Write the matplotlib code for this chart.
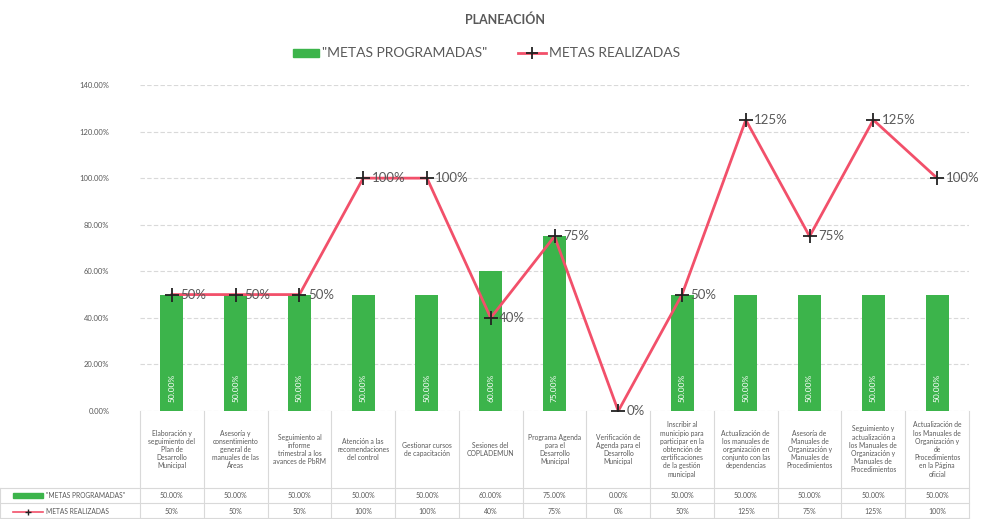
"""
Planeación: metas programadas vs. metas realizadas, con tabla de datos.
"""

import textwrap

import matplotlib.pyplot as plt
import matplotlib.transforms as mtransforms
from matplotlib.lines import Line2D
from matplotlib.patches import Rectangle

plt.rcParams['font.family'] = ['Lato', 'DejaVu Sans']

# Datos
categorias = [
    "Elaboración y seguimiento del Plan de Desarrollo Municipal",
    "Asesoría y consentimiento general de manuales de las Áreas",
    "Seguimiento al informe trimestral a los avances de PbRM",
    "Atención a las recomendaciones del control",
    "Gestionar cursos de capacitación",
    "Sesiones del COPLADEMUN",
    "Programa Agenda para el Desarrollo Municipal",
    "Verificación de Agenda para el Desarrollo Municipal",
    "Inscribir al municipio para participar en la obtención de certificaciones de la gestión municipal",
    "Actualización de los manuales de organización en conjunto con las dependencias",
    "Asesoría de Manuales de Organización y Manuales de Procedimientos",
    "Seguimiento y actualización a los Manuales de Organización y Manuales de Procedimientos",
    "Actualización de los Manuales de Organización y de Procedimientos en la Página oficial",
]
metas_programadas = [50, 50, 50, 50, 50, 60, 75, 0, 50, 50, 50, 50, 50]
metas_realizadas = [50, 50, 50, 100, 100, 40, 75, 0, 50, 125, 75, 125, 100]

VERDE = '#3cb44b'
ROJO = '#f2506a'
GRIS = '#595959'
LINEA = '#d9d9d9'

W, H = 984, 519
fig = plt.figure(figsize=(W / 100, H / 100), dpi=100)
fig.patch.set_facecolor('white')

# ejes en pixeles de la imagen
x0, x1, y_top, y_bot = 140, 969, 85, 411
ax = fig.add_axes([x0 / W, 1 - y_bot / H, (x1 - x0) / W, (y_bot - y_top) / H])

x = list(range(len(categorias)))
ax.bar(x, metas_programadas, width=0.36, color=VERDE, zorder=2)
ax.plot(x, metas_realizadas, color=ROJO, lw=2, zorder=3)
ax.plot(x, metas_realizadas, ls='none', marker='+', ms=10, mew=1.3,
        color='#222222', zorder=4)

for i, v in enumerate(metas_programadas):
    if v > 0:
        ax.text(i, 4, f"{v:.2f}%", rotation=90, ha='center', va='bottom',
                color='white', fontsize=6, zorder=5)

for i, v in enumerate(metas_realizadas):
    ax.annotate(f"{v}%", (i, v), xytext=(6, 0), textcoords='offset points',
                ha='left', va='center', fontsize=9.5, color=GRIS, zorder=6)

ax.set_xlim(-0.5, len(categorias) - 0.5)
ax.set_ylim(0, 140)
ax.set_yticks(range(0, 141, 20))
ax.set_yticklabels([f"{t:.2f}%" for t in range(0, 141, 20)], fontsize=5.5, color=GRIS)
ax.set_xticks([])
ax.tick_params(axis='y', length=0, pad=22)
ax.grid(True, axis='y', color=LINEA, lw=0.8, ls=(0, (4, 2)), zorder=0)
for s in ax.spines.values():
    s.set_visible(False)

# Titulo y leyenda
fig.text(505 / W, 1 - 20 / H, "PLANEACIÓN", ha='center', va='center',
         fontsize=9, fontweight='bold', color=GRIS)
fig.patches.append(Rectangle((293 / W, 1 - 57 / H), 26 / W, 8 / H,
                             transform=fig.transFigure, color=VERDE))
fig.text(322 / W, 1 - 53 / H, '"METAS PROGRAMADAS"', ha='left', va='center',
         fontsize=10, color=GRIS)
fig.add_artist(Line2D([518 / W, 546 / W], [1 - 53 / H] * 2, color=ROJO, lw=2,
                      transform=fig.transFigure))
fig.add_artist(Line2D([532 / W], [1 - 53 / H], marker='+', ms=9, mew=1.3,
                      color='#222222', transform=fig.transFigure))
fig.text(549 / W, 1 - 53 / H, "METAS REALIZADAS", ha='left', va='center',
         fontsize=10, color=GRIS)

# Tabla de datos
tr = mtransforms.blended_transform_factory(ax.transData, fig.transFigure)
fy = lambda py: 1 - py / H
y_h0, y_h1, y_r1, y_r2 = 411, 488, 503, 519

for k in range(len(categorias) + 1):
    xb = k - 0.5
    fig.add_artist(Line2D([xb, xb], [fy(y_h0), fy(y_r2)], color=LINEA, lw=0.8,
                          transform=tr))
for yy in (y_h1, y_r1, y_r2 - 1):
    fig.add_artist(Line2D([0, x1 / W], [fy(yy)] * 2, color=LINEA, lw=0.8,
                          transform=fig.transFigure))
fig.add_artist(Line2D([0, 0], [fy(y_h1), fy(y_r2)], color=LINEA, lw=0.8,
                      transform=fig.transFigure))

for i, cat in enumerate(categorias):
    fig.text(i, fy((y_h0 + y_h1) / 2), textwrap.fill(cat, 16), transform=tr,
             ha='center', va='center', fontsize=4.9, color=GRIS, linespacing=1.2)
    fig.text(i, fy((y_h1 + y_r1) / 2), f"{metas_programadas[i]:.2f}%", transform=tr,
             ha='center', va='center', fontsize=5, color=GRIS)
    fig.text(i, fy((y_r1 + y_r2) / 2), f"{metas_realizadas[i]}%", transform=tr,
             ha='center', va='center', fontsize=5, color=GRIS)

# claves de la tabla
fig.patches.append(Rectangle((13 / W, fy(498)), 30 / W, 5 / H,
                             transform=fig.transFigure, color=VERDE))
fig.text(46 / W, fy(496), '"METAS PROGRAMADAS"', ha='left', va='center',
         fontsize=4.8, color=GRIS)
fig.add_artist(Line2D([13 / W, 43 / W], [fy(512)] * 2, color=ROJO, lw=1.2,
                      transform=fig.transFigure))
fig.add_artist(Line2D([28 / W], [fy(512)], marker='+', ms=5, mew=1,
                      color='#222222', transform=fig.transFigure))
fig.text(46 / W, fy(512), "METAS REALIZADAS", ha='left', va='center',
         fontsize=4.8, color=GRIS)

fig.savefig('out.png', dpi=100)
